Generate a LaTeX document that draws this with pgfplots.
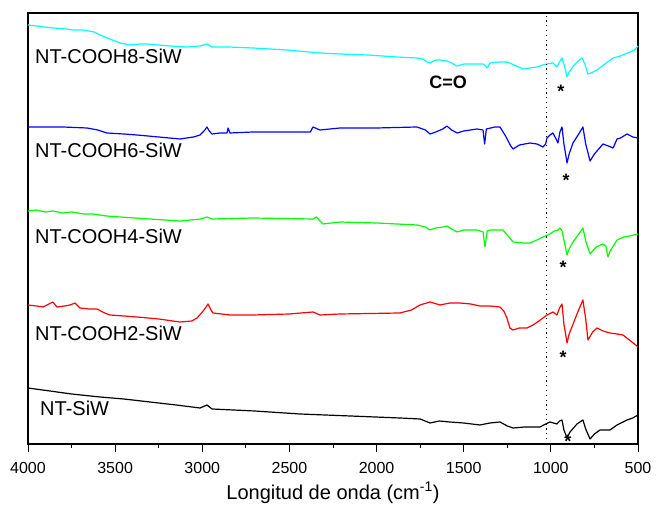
\documentclass[border=0pt]{standalone}
\usepackage{fontspec}
\setmainfont{Liberation Sans}
\usepackage{pgfplots}
\pgfplotsset{compat=1.18}
\definecolor{ccyan}{RGB}{0,255,255}
\definecolor{cblue}{RGB}{0,0,255}
\definecolor{cgreen}{RGB}{0,255,0}
\definecolor{cred}{RGB}{255,0,0}
\begin{document}
\begin{tikzpicture}
\path[use as bounding box] (-28pt,-66pt) rectangle (628pt,444pt);
\begin{axis}[
  at={(0,0)}, anchor=south west,
  scale only axis, width=610pt, height=431pt,
  x dir=reverse, xmin=500, xmax=4000, ymin=0, ymax=431,
  ytick=\empty,
  xtick={500,1000,...,4000},
  minor x tick num=1,
  tick align=outside, xtick pos=left,
  major tick length=8pt, minor tick length=4pt,
  axis line style={line width=1.2pt},
  every tick/.style={black, line width=0.8pt},
  /pgf/number format/assume math mode=true,
  /pgf/number format/1000 sep={},
  ticklabel style={font=\fontsize{16}{19}\selectfont},
  xticklabel style={yshift=-7pt},
  xlabel={Longitud de onda (cm\textsuperscript{-1})},
  xlabel style={font=\fontsize{20}{24}\selectfont, at={(axis description cs:0.5,0)}, anchor=center, yshift=-49pt},
  every axis plot/.append style={line width=1.2pt, line join=round},
  clip=false
]
% cyan
\addplot[ccyan] coordinates {(4000,419)(3950,418)(3857,416)(3780,415)(3742,414)(3684,414)(3620,412)(3587,409)(3530,405)(3472,401)(3415,399)(3360,400)(3317,400)(3250,399)(3185,398)(3088,397)(3013,398)(2973,400)(2944,397)(2850,397)(2709,396)(2514,394)(2325,391)(2210,390)(2050,389)(1883,387)(1768,386)(1734,385)(1710,382)(1693,381)(1660,384)(1636,384)(1596,383)(1570,381)(1538,378)(1500,380)(1464,380)(1389,380)(1375,378)(1366,376)(1349,381)(1300,382)(1252,382)(1210,379)(1160,375)(1120,376)(1079,377)(1045,379)(1022,380)(988,381)(965,377)(950,382)(936,386)(925,380)(907,367)(895,372)(879,376)(850,382)(821,386)(805,380)(787,370)(770,371)(735,374)(690,380)(643,386)(600,388)(546,392)(520,394)(500,398)};
% blue
\addplot[cblue] coordinates {(4000,317)(3800,317)(3661,316)(3600,314)(3547,311)(3450,310)(3375,309)(3250,307)(3128,305)(3050,307)(3013,309)(2985,314)(2973,317)(2960,313)(2944,310)(2898,311)(2858,311)(2852,316)(2841,311)(2709,312)(2380,312)(2365,317)(2325,314)(2210,316)(2000,316)(1768,317)(1720,314)(1693,310)(1660,312)(1620,315)(1596,318)(1570,314)(1538,311)(1500,313)(1424,315)(1389,314)(1380,300)(1370,315)(1320,317)(1292,317)(1260,308)(1230,298)(1217,295)(1180,299)(1120,301)(1080,300)(1045,297)(1030,300)(1022,306)(1005,309)(988,311)(970,305)(959,301)(948,312)(936,317)(925,300)(907,281)(895,290)(873,301)(840,310)(816,317)(800,300)(775,283)(750,290)(701,300)(670,298)(643,296)(620,305)(600,306)(563,310)(530,307)(500,306)};
% green
\addplot[cgreen] coordinates {(4000,233)(3950,234)(3900,232)(3857,233)(3800,231)(3750,232)(3680,230)(3627,230)(3550,228)(3472,227)(3300,225)(3128,223)(3010,225)(2973,227)(2944,225)(2709,226)(2365,225)(2345,227)(2330,224)(2307,220)(2210,222)(2000,221)(1768,219)(1720,217)(1693,214)(1660,216)(1620,217)(1596,218)(1570,215)(1538,212)(1500,214)(1424,214)(1389,212)(1378,197)(1365,213)(1349,214)(1275,214)(1240,207)(1217,202)(1160,201)(1120,201)(1080,204)(1045,207)(1005,210)(980,213)(959,214)(948,216)(936,213)(920,200)(907,189)(895,195)(873,202)(840,210)(816,216)(800,203)(775,190)(740,197)(701,200)(685,198)(672,187)(660,193)(620,204)(580,207)(546,208)(500,210)};
% red
\addplot[cred] coordinates {(4000,139)(3950,138)(3914,137)(3880,140)(3857,142)(3834,137)(3790,138)(3759,139)(3730,141)(3702,136)(3650,135)(3604,135)(3560,131)(3530,129)(3450,128)(3375,127)(3250,125)(3128,122)(3060,123)(3030,126)(2990,134)(2967,140)(2950,134)(2939,131)(2841,129)(2709,129)(2500,130)(2365,132)(2325,129)(2210,130)(1866,131)(1800,134)(1751,139)(1693,142)(1636,139)(1580,141)(1521,141)(1460,140)(1407,138)(1350,138)(1292,137)(1270,133)(1252,126)(1235,116)(1217,114)(1180,116)(1137,116)(1102,119)(1060,124)(1022,129)(988,132)(965,129)(950,136)(936,140)(925,120)(907,101)(895,110)(879,117)(850,130)(816,144)(800,125)(787,104)(760,112)(735,116)(700,113)(661,111)(620,110)(586,109)(550,104)(520,100)(500,97)};
% black
\addplot[black] coordinates {(4000,56)(3874,53)(3750,50)(3587,47)(3450,45)(3300,42)(3150,39)(3013,36)(2973,39)(2944,35)(2700,33)(2439,30)(2150,28)(1866,26)(1750,25)(1693,21)(1640,23)(1579,22)(1500,21)(1407,19)(1350,21)(1292,22)(1250,18)(1217,16)(1150,17)(1062,17)(1030,20)(1005,22)(985,21)(965,20)(950,23)(936,24)(925,14)(907,6)(890,12)(850,20)(816,24)(800,15)(775,5)(750,10)(718,14)(661,14)(620,19)(563,24)(530,26)(500,29)};
% dotted line
\addplot[black, line width=1.1pt, dash pattern=on 1.2pt off 3.6pt] coordinates {(1024,0)(1024,431)};
% labels
\node[anchor=west, inner sep=0pt, font=\fontsize{20}{24}\selectfont] at (axis cs:3960,388) {NT-COOH8-SiW};
\node[anchor=west, inner sep=0pt, font=\fontsize{20}{24}\selectfont] at (axis cs:3960,294) {NT-COOH6-SiW};
\node[anchor=west, inner sep=0pt, font=\fontsize{20}{24}\selectfont] at (axis cs:3960,208) {NT-COOH4-SiW};
\node[anchor=west, inner sep=0pt, font=\fontsize{20}{24}\selectfont] at (axis cs:3960,111) {NT-COOH2-SiW};
\node[anchor=west, inner sep=0pt, font=\fontsize{20}{24}\selectfont] at (axis cs:3931,36) {NT-SiW};
\node[inner sep=0pt, font=\fontsize{18}{22}\selectfont\bfseries] at (axis cs:1590,362) {C=O};
\node[anchor=north, inner sep=0pt, font=\fontsize{18}{22}\selectfont\bfseries] at (axis cs:942,359.5) {*};
\node[anchor=north, inner sep=0pt, font=\fontsize{18}{22}\selectfont\bfseries] at (axis cs:913,270.5) {*};
\node[anchor=north, inner sep=0pt, font=\fontsize{18}{22}\selectfont\bfseries] at (axis cs:930,183.5) {*};
\node[anchor=north, inner sep=0pt, font=\fontsize{18}{22}\selectfont\bfseries] at (axis cs:930,93.5) {*};
\node[anchor=north, inner sep=0pt, font=\fontsize{18}{22}\selectfont\bfseries] at (axis cs:902,9.5) {*};
\end{axis}
\end{tikzpicture}
\end{document}
